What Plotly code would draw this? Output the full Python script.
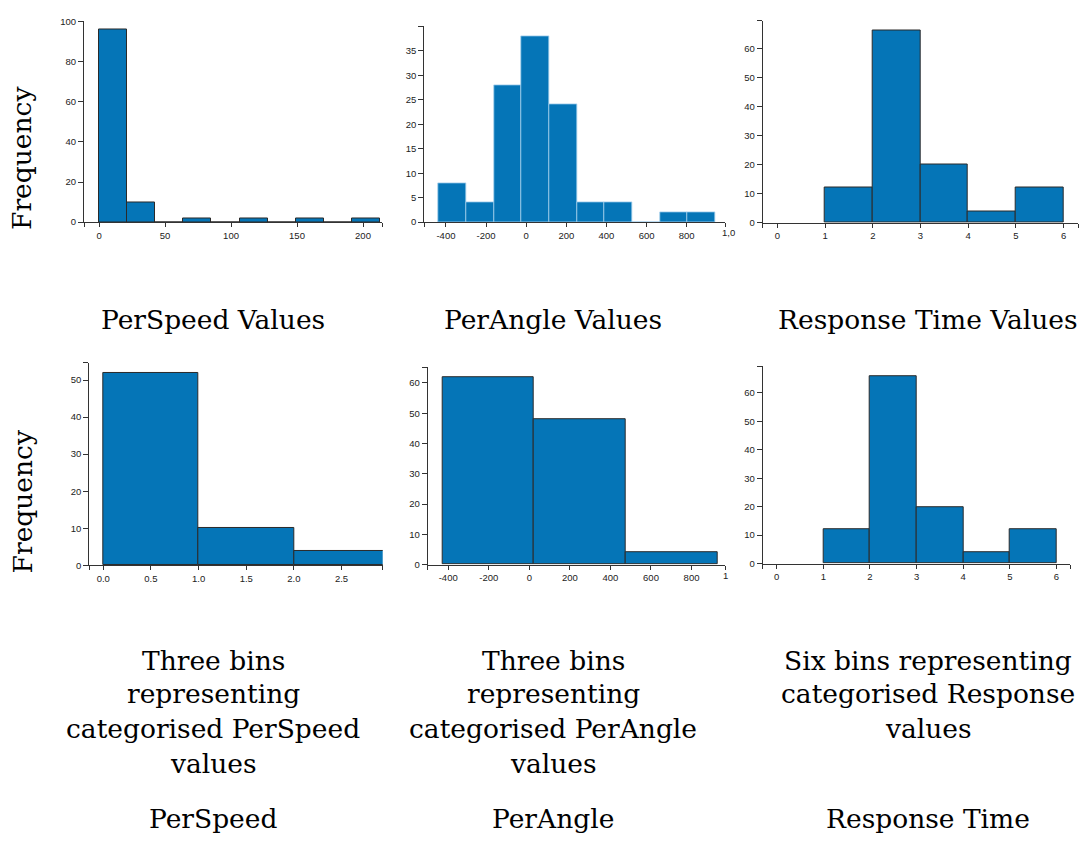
import plotly.graph_objects as go

W, H = 1086, 841

# ---- data: bin edges and frequencies ----
speed_edges = [0, 21.3, 42.6, 63.9, 85.2, 106.5, 127.8, 149.1, 170.4, 191.7, 213.0]
speed_counts = [96, 10, 0, 2, 0, 2, 0, 2, 0, 2]

angle_edges = [-437, -299, -161, -23, 115, 253, 391, 529, 667, 805, 943]
angle_counts = [8, 4, 28, 38, 24, 4, 4, 0, 2, 2]

resp_edges = [1, 2, 3, 4, 5, 6]
resp_counts = [12, 66, 20, 4, 12]

speed_cat_edges = [0, 1, 2, 3]
speed_cat_counts = [52, 10, 4]

angle_cat_edges = [-429, 23, 476, 929]
angle_cat_counts = [62, 48, 4]

resp_cat_edges = [1, 2, 3, 4, 5, 6]
resp_cat_counts = [12, 66, 20, 4, 12]

# tick values
speed_xticks = [0, 50, 100, 150, 200]
angle_xticks = [-400, -200, 0, 200, 400, 600, 800]
resp_xticks = [0, 1, 2, 3, 4, 5, 6]
speed_cat_xticks = [0.0, 0.5, 1.0, 1.5, 2.0, 2.5]
speed_yticks = [0, 20, 40, 60, 80, 100]
angle_yticks = [0, 5, 10, 15, 20, 25, 30, 35]
count_yticks_60 = [0, 10, 20, 30, 40, 50, 60]
count_yticks_50 = [0, 10, 20, 30, 40, 50]

top_titles = ["PerSpeed Values", "PerAngle Values", "Response Time Values"]
caption_lines = [
    ["Three bins", "representing", "categorised PerSpeed", "values"],
    ["Three bins", "representing", "categorised PerAngle", "values"],
    ["Six bins representing", "categorised Response", "values"],
]
bottom_names = ["PerSpeed", "PerAngle", "Response Time"]

BAR = "#0575b7"
AX = "#333333"
SERIF = "DejaVu Serif"
TICKFONT = dict(family="Liberation Sans, Arial, sans-serif", size=9.5, color="#222222")


def fx(px):
    return px / W


def fy(py):
    return 1 - py / H


# panel geometry: (x-domain px, x-range, y0 px, ytop px, y-range top)
panels = [
    dict(edges=speed_edges, counts=speed_counts, xd=(84, 382), xr=(-11.4, 214.4),
         yd=(219, 15.7), ytop=100, xt=speed_xticks, yt=speed_yticks, edge="#2a2a2a"),
    dict(edges=angle_edges, counts=angle_counts, xd=(424.3, 725), xr=(-508, 991),
         yd=(219, 20.7), ytop=40, xt=angle_xticks, yt=angle_yticks, edge="rgba(160,205,235,0.8)"),
    dict(edges=resp_edges, counts=resp_counts, xd=(762.7, 1078.3), xr=(-0.31, 6.31),
         yd=(219.7, 14.7), ytop=69.6, xt=resp_xticks, yt=count_yticks_60, edge="#2a2a2a"),
    dict(edges=speed_cat_edges, counts=speed_cat_counts, xd=(89.3, 382.7), xr=(-0.147, 2.932),
         yd=(566.7, 361.7), ytop=54.6, xt=speed_cat_xticks, yt=count_yticks_50, edge="#2a2a2a",
         fmt=".1f"),
    dict(edges=angle_cat_edges, counts=angle_cat_counts, xd=(427.7, 725), xr=(-501, 965),
         yd=(566, 366), ytop=65.2, xt=angle_xticks, yt=count_yticks_60, edge="#2a2a2a"),
    dict(edges=resp_cat_edges, counts=resp_cat_counts, xd=(762.7, 1070), xr=(-0.3, 6.29),
         yd=(565, 365), ytop=69.4, xt=resp_xticks, yt=count_yticks_60, edge="#2a2a2a"),
]

fig = go.Figure()
layout = dict(
    width=W, height=H, margin=dict(l=0, r=0, t=0, b=0),
    paper_bgcolor="white", plot_bgcolor="white", showlegend=False,
    bargap=0,
)

for i, p in enumerate(panels, start=1):
    edges = p["edges"]
    centers = [(a + b) / 2 for a, b in zip(edges[:-1], edges[1:])]
    widths = [b - a for a, b in zip(edges[:-1], edges[1:])]
    sx = "" if i == 1 else str(i)
    fig.add_trace(go.Bar(
        x=centers, y=p["counts"], width=widths,
        marker=dict(color=BAR, line=dict(color=p["edge"], width=1)),
        xaxis="x" + sx, yaxis="y" + sx, hoverinfo="x+y",
    ))
    xr, ytop = p["xr"], p["ytop"]
    fmt = p.get("fmt")
    xvals = [xr[0]] + list(p["xt"]) + [xr[1]]
    xtext = [""] + [(format(v, fmt) if fmt else f"{v:g}") for v in p["xt"]] + [""]
    yvals = list(p["yt"]) + ([ytop] if ytop not in p["yt"] else [])
    ytext = [f"{v:g}" for v in p["yt"]] + ([""] if ytop not in p["yt"] else [])
    layout["xaxis" + sx] = dict(
        domain=[fx(p["xd"][0]), fx(p["xd"][1])], range=list(xr), anchor="y" + sx,
        showline=True, linecolor=AX, linewidth=1, ticks="outside", ticklen=4,
        tickcolor=AX, tickwidth=1, tickvals=xvals, ticktext=xtext,
        showgrid=False, zeroline=False, tickfont=TICKFONT, fixedrange=True,
    )
    layout["yaxis" + sx] = dict(
        domain=[fy(p["yd"][0]), fy(p["yd"][1])], range=[0, ytop], anchor="x" + sx,
        showline=True, linecolor=AX, linewidth=1, ticks="outside", ticklen=5,
        tickcolor=AX, tickwidth=1, tickvals=yvals, ticktext=ytext,
        showgrid=False, zeroline=False, tickfont=TICKFONT, fixedrange=True,
    )

fig.update_layout(**layout)

ann = []
txt = dict(family=SERIF, size=26.5, color="#000000")

# y-axis captions
for cy in (155, 503):
    ann.append(dict(text="Frequency", x=fx(22), y=fy(cy), xref="paper", yref="paper",
                    textangle=-90, showarrow=False, font=txt,
                    xanchor="center", yanchor="middle"))

centers_x = [213, 553, 928]
for cx, t in zip(centers_x, top_titles):
    ann.append(dict(text=t, x=fx(cx), y=fy(318), xref="paper", yref="paper",
                    showarrow=False, font=txt, xanchor="center", yanchor="middle"))

line_y = [663, 697, 732, 768]
for cx, lines in zip(centers_x, caption_lines):
    for ly, t in zip(line_y, lines):
        ann.append(dict(text=t, x=fx(cx), y=fy(ly), xref="paper", yref="paper",
                        showarrow=False, font=txt, xanchor="center", yanchor="middle"))

for cx, t in zip(centers_x, bottom_names):
    ann.append(dict(text=t, x=fx(cx), y=fy(823), xref="paper", yref="paper",
                    showarrow=False, font=txt, xanchor="center", yanchor="middle"))

# tick labels at 1,000 partly hidden behind the neighbouring panel
ann.append(dict(text="1,0", x=fx(720), y=fy(229), xref="paper", yref="paper",
                showarrow=False, font=TICKFONT, xanchor="left", yanchor="middle"))
ann.append(dict(text="1", x=fx(721), y=fy(577), xref="paper", yref="paper",
                showarrow=False, font=TICKFONT, xanchor="left", yanchor="middle"))

fig.update_layout(annotations=ann)
fig.write_html("out.html")
